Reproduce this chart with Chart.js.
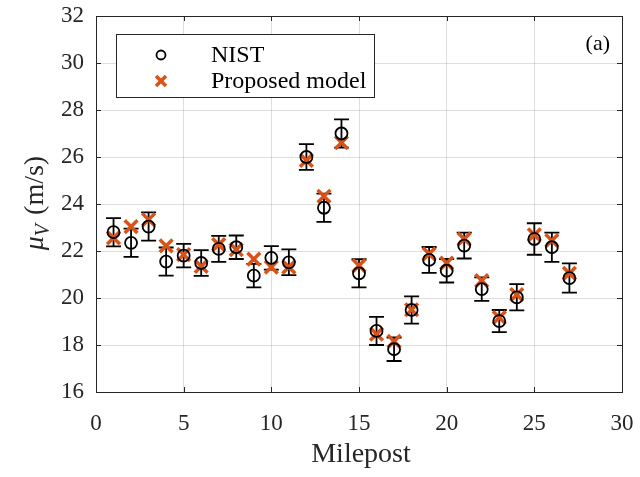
<!DOCTYPE html>
<html>
<head>
<meta charset="utf-8">
<script src="https://cdn.jsdelivr.net/npm/chart.js@4"></script>
<style>
  html, body { margin: 0; padding: 0; background: #fff; }
  #wrap { width: 640px; height: 477px; position: relative; }
</style>
</head>
<body>
<div id="wrap"><canvas id="mu-chart"></canvas></div>
<script>
// Data
const mileposts = [1, 2, 3, 4, 5, 6, 7, 8, 9, 10, 11, 12, 13, 14, 15, 16, 17, 18, 19, 20, 21, 22, 23, 24, 25, 26, 27];
const nistMean = [22.80, 22.35, 23.04, 21.55, 21.80, 21.49, 22.09, 22.16, 20.95, 21.71, 21.52, 26.00, 23.84, 27.00,
                  21.05, 18.60, 17.82, 19.49, 21.62, 21.16, 22.23, 20.38, 19.02, 20.03, 22.51, 22.16, 20.85];
const nistErr = [0.60, 0.60, 0.60, 0.60, 0.50, 0.55, 0.55, 0.50, 0.50, 0.50, 0.55, 0.55, 0.60, 0.60,
                 0.60, 0.60, 0.50, 0.58, 0.55, 0.50, 0.55, 0.50, 0.47, 0.56, 0.67, 0.62, 0.62];
const modelMean = [22.56, 23.04, 23.33, 22.22, 21.85, 21.35, 22.27, 22.06, 21.65, 21.31, 21.31, 25.86, 24.33, 26.61,
                   21.38, 18.46, 18.15, 19.50, 21.88, 21.48, 22.51, 20.74, 19.17, 20.14, 22.69, 22.44, 21.05];
const xTicks = [0, 5, 10, 15, 20, 25, 30];
const yTicks = [16, 18, 20, 22, 24, 26, 28, 30, 32];
const seriesLabels = ['NIST', 'Proposed model'];

const SERIF = '"Liberation Serif", "Times New Roman", serif';
const ORANGE = '#D95319';
const AXIS = '#262626';

// vertical error bars with caps, under the markers
const errorBars = {
    id: 'errorBars',
    beforeDatasetsDraw(chart) {
        const { ctx, scales: { x, y } } = chart;
        ctx.save();
        ctx.strokeStyle = '#000';
        ctx.lineWidth = 1.8;
        mileposts.forEach((m, i) => {
            const px = x.getPixelForValue(m);
            const top = y.getPixelForValue(nistMean[i] + nistErr[i]);
            const bot = y.getPixelForValue(nistMean[i] - nistErr[i]);
            ctx.beginPath();
            ctx.moveTo(px, top); ctx.lineTo(px, bot);
            ctx.moveTo(px - 7.5, top); ctx.lineTo(px + 7.5, top);
            ctx.moveTo(px - 7.5, bot); ctx.lineTo(px + 7.5, bot);
            ctx.stroke();
        });
        ctx.restore();
    }
};

// MATLAB style box, inner ticks, axis titles, legend and panel tag
const frame = {
    id: 'frame',
    afterDraw(chart) {
        const { ctx, chartArea: a, scales: { x, y } } = chart;
        ctx.save();
        ctx.strokeStyle = AXIS;
        ctx.lineWidth = 1;
        ctx.strokeRect(a.left + 0.5, a.top + 0.5, a.right - a.left, a.bottom - a.top);
        ctx.beginPath();
        xTicks.forEach(v => {
            const px = Math.round(x.getPixelForValue(v)) + 0.5;
            ctx.moveTo(px, a.bottom); ctx.lineTo(px, a.bottom - 5);
            ctx.moveTo(px, a.top); ctx.lineTo(px, a.top + 5);
        });
        yTicks.forEach(v => {
            const py = Math.round(y.getPixelForValue(v)) + 0.5;
            ctx.moveTo(a.left, py); ctx.lineTo(a.left + 5, py);
            ctx.moveTo(a.right, py); ctx.lineTo(a.right - 5, py);
        });
        ctx.stroke();

        // x title
        ctx.fillStyle = AXIS;
        ctx.font = '28px ' + SERIF;
        ctx.textAlign = 'center';
        ctx.textBaseline = 'alphabetic';
        ctx.fillText('Milepost', (a.left + a.right) / 2 + 2, 462);

        // y title: mu_V (m/s)
        ctx.save();
        ctx.translate(43, 203);
        ctx.rotate(-Math.PI / 2);
        const muFont = 'italic 28px ' + SERIF;
        const subFont = 'italic 20px ' + SERIF;
        const restFont = '28px ' + SERIF;
        ctx.font = muFont; const wMu = ctx.measureText('\u03bc').width;
        ctx.font = subFont; const wV = ctx.measureText('V').width;
        ctx.font = restFont; const wRest = ctx.measureText(' (m/s)').width;
        let cx = -(wMu + wV + 2 + wRest) / 2;
        ctx.textAlign = 'left';
        ctx.font = muFont; ctx.fillText('\u03bc', cx, 0); cx += wMu;
        ctx.font = subFont; ctx.fillText('V', cx, 6); cx += wV + 2;
        ctx.font = restFont; ctx.fillText(' (m/s)', cx, 0);
        ctx.restore();

        // panel tag
        ctx.font = '22px ' + SERIF;
        ctx.textAlign = 'right';
        ctx.fillStyle = '#000';
        ctx.fillText('(a)', a.right - 12, 50);

        // legend
        const lx = 116, ly = 34, lw = 258, lh = 63;
        ctx.fillStyle = '#fff';
        ctx.fillRect(lx, ly, lw, lh);
        ctx.strokeStyle = AXIS;
        ctx.lineWidth = 1;
        ctx.strokeRect(lx + 0.5, ly + 0.5, lw, lh);
        ctx.strokeStyle = '#000';
        ctx.lineWidth = 1.8;
        ctx.beginPath();
        ctx.arc(161, 55, 4.5, 0, Math.PI * 2);
        ctx.stroke();
        ctx.strokeStyle = ORANGE;
        ctx.lineWidth = 3.5;
        ctx.beginPath();
        ctx.moveTo(156, 76); ctx.lineTo(166, 86);
        ctx.moveTo(166, 76); ctx.lineTo(156, 86);
        ctx.stroke();
        ctx.fillStyle = '#000';
        ctx.font = '24px ' + SERIF;
        ctx.textAlign = 'left';
        ctx.textBaseline = 'middle';
        ctx.fillText(seriesLabels[0], 211, 56);
        ctx.fillText(seriesLabels[1], 211, 82);
        ctx.restore();
    }
};

new Chart(document.getElementById('mu-chart'), {
    type: 'scatter',
    data: {
        datasets: [
            {
                label: seriesLabels[0],
                data: mileposts.map((m, i) => ({ x: m, y: nistMean[i] })),
                pointStyle: 'circle',
                pointRadius: 6,
                backgroundColor: 'rgba(0,0,0,0)',
                borderColor: '#000',
                borderWidth: 1.8
            },
            {
                label: seriesLabels[1],
                data: mileposts.map((m, i) => ({ x: m, y: modelMean[i] })),
                pointStyle: 'crossRot',
                pointRadius: 9,
                borderColor: ORANGE,
                backgroundColor: ORANGE,
                borderWidth: 3.5
            }
        ]
    },
    options: {
        responsive: true,
        maintainAspectRatio: false,
        animation: false,
        layout: { padding: { top: 16, right: 18, left: 0, bottom: 0 } },
        plugins: {
            legend: { display: false },
            tooltip: { enabled: false }
        },
        scales: {
            x: {
                type: 'linear',
                min: 0, max: 30,
                afterBuildTicks: s => { s.ticks = xTicks.map(v => ({ value: v })); },
                afterFit: s => { s.height = 85; s.paddingLeft = 0; s.paddingRight = 0; },
                border: { display: false },
                grid: { color: 'rgba(0,0,0,0.13)', drawTicks: false },
                ticks: { color: AXIS, padding: 18, font: { family: SERIF, size: 23 }, maxRotation: 0 }
            },
            y: {
                type: 'linear',
                min: 16, max: 32,
                afterBuildTicks: s => { s.ticks = yTicks.map(v => ({ value: v })); },
                afterFit: s => { s.width = 96; s.paddingTop = 0; s.paddingBottom = 0; },
                border: { display: false },
                grid: { color: 'rgba(0,0,0,0.13)', drawTicks: false },
                ticks: { color: AXIS, padding: 12, font: { family: SERIF, size: 23 } }
            }
        }
    },
    plugins: [errorBars, frame]
});
</script>
</body>
</html>
